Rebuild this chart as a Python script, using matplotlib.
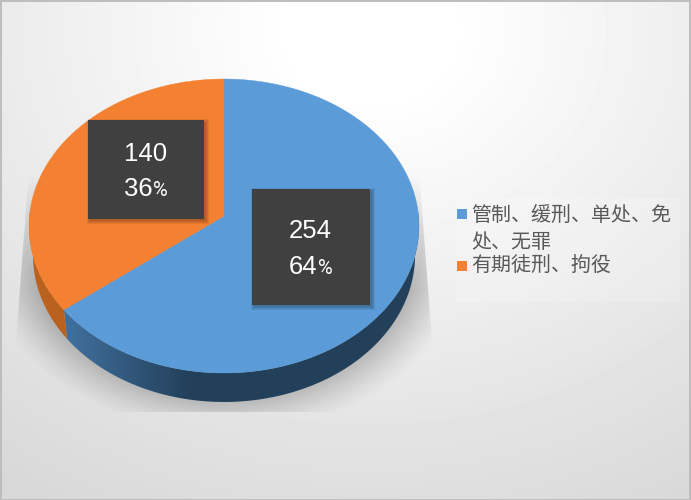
import numpy as np
import matplotlib
matplotlib.use('Agg')
import matplotlib.pyplot as plt
from matplotlib.colors import LinearSegmentedColormap
from matplotlib.patches import Polygon, Rectangle

# data
categories = ['管制、缓刑、单处、免\n处、无罪', '有期徒刑、拘役']
values = [254, 140]
percents = ['64', '36']
colors = ['#5b9bd8', '#f48132']
side_colors = ['#23405a', '#b9621f']

W, H = 691, 500
CX, CY = 224, 216   # where the slices meet
RX, RY, C = 194.5, 146.3, 0.068   # perspective of the pie top
DEPTH = 29
BOTTOM_SCALE = 0.98   # lower rim is a bit narrower than the top


def project(theta):
    # unit circle angle (deg) to picture pixels, tilted with a little perspective
    t = np.radians(theta)
    x, y = np.cos(t), np.sin(t)
    d = 1 + C * y
    return CX + RX * x / d, CY - RY * y / d


def wall(a):
    # polygon between the top rim and the lower rim for the angles in a
    x, y = project(a)
    xb = CX + (x - CX) * BOTTOM_SCALE
    return np.r_[np.c_[x, y], np.c_[xb, y + DEPTH][::-1]]


fig = plt.figure(figsize=(W / 100, H / 100), dpi=100)
ax = fig.add_axes([0, 0, 1, 1])
wedges, _ = ax.pie(values, startangle=90, counterclock=False, colors=colors)
thetas = [(w.theta1, w.theta2) for w in wedges]
for w in wedges:
    w.remove()
ax.set_aspect('auto')
ax.set_xlim(0, W)
ax.set_ylim(H, 0)
ax.axis('off')

# background gradient
yy, xx = np.mgrid[0:H, 0:W]
dist = np.hypot((xx - 370) / 1.12, (yy - 30) / 0.95)
bg = np.clip(255 - 0.078 * np.maximum(dist - 70, 0), 216, 255)
ax.imshow(bg, cmap='gray', vmin=0, vmax=255, extent=(0, W, H, 0), aspect='auto', zorder=0)

# soft shadow under the pie, cut off by its own box like in the reference
rad = np.hypot((xx - 224) / 197.0, (yy - 240) / 155.0)
sd = (rad - 1) * 170
shadow = np.clip(1 - sd / 44, 0, 1) ** 1.3 * 0.24
shadow = shadow * np.clip((yy - 170) / 120.0, 0, 1)
rgba = np.zeros((H, W, 4))
rgba[..., 3] = shadow
im = ax.imshow(rgba, extent=(0, W, H, 0), aspect='auto', zorder=1)
im.set_clip_path(Polygon([(29, 170), (16, 340), (16, 412), (432, 412), (432, 340), (419, 170)],
                         transform=ax.transData))

# side wall, only the front of the circle shows
blue_range, orange_range = thetas
a = np.linspace(min(blue_range), max(blue_range), 400)
a = a[np.sin(np.radians(a)) < 0.05]
wall_cmap = LinearSegmentedColormap.from_list('wall', ['#41719f', side_colors[0]])
xs = np.clip((np.arange(256) / 255 - 64 / 420) * 420 / 125, 0, 1).reshape(1, -1)
poly = Polygon(wall(a), facecolor='none', edgecolor='none', transform=ax.transData)
ax.add_patch(poly)
wall_im = ax.imshow(xs, cmap=wall_cmap, vmin=0, vmax=1, extent=(0, 420, 420, 200), aspect='auto', zorder=2)
wall_im.set_clip_path(poly)

a = np.linspace(min(orange_range), max(orange_range), 300)
a = a[np.sin(np.radians(a)) < 0.05]
ax.add_patch(Polygon(wall(a), facecolor=side_colors[1], edgecolor='none', zorder=2))

# top face
for (t1, t2), col in zip(thetas, colors):
    x, y = project(np.linspace(t1, t2, 300))
    pts = np.r_[[(CX, CY)], np.c_[x, y]]
    ax.add_patch(Polygon(pts, facecolor=col, edgecolor=col, lw=0.3, zorder=3))

# data label boxes
boxes = [(252, 189, 118, 116), (88, 120, 116, 99)]
baselines = [(238.5, 273.5), (161, 196)]
starts = [(290.5, 331), (125.5, 166)]
for (bx, by, bw, bh), (r1, r2), (x0, x1), v, p in zip(boxes, baselines, starts, values, percents):
    # blurry drop shadow from a few stacked rectangles
    for grow in [0, 1, 2, 3]:
        ax.add_patch(Rectangle((bx + 2 - grow, by + 2 - grow), bw + 2 * grow, bh + 2 * grow,
                               facecolor='black', alpha=0.07, edgecolor='none', zorder=4))
    ax.add_patch(Rectangle((bx, by), bw, bh, facecolor='#404040', edgecolor='none', zorder=5))
    ax.text((x0 + x1) / 2, r1, str(v), color='white', fontsize=18.5, family='Liberation Sans',
            ha='center', va='baseline', zorder=6)
    ax.text(x0 - 1.5, r2, p, color='white', fontsize=18.5, family='Liberation Sans',
            ha='left', va='baseline', zorder=6)
    # the percent sign is a narrow one in the reference, Roboto gets closest
    ax.text(x1 + 1.5, r2, '%', color='white', fontsize=14.5, family='Roboto',
            ha='right', va='baseline', zorder=6)

# legend
ax.add_patch(Rectangle((455, 198), 225, 104, facecolor='white', alpha=0.18, edgecolor='none', zorder=1))
ax.add_patch(Rectangle((457, 209), 10, 9.5, facecolor=colors[0], edgecolor='none', zorder=3))
ax.add_patch(Rectangle((457, 261), 10, 9.5, facecolor=colors[1], edgecolor='none', zorder=3))
for txt, ty in zip(categories[0].split('\n') + [categories[1]], [215, 242, 266]):
    ax.text(471, ty, txt, color='#595959', fontsize=14.4, family=['Noto Sans CJK SC', 'DejaVu Sans'],
            ha='left', va='center', zorder=6)

# thin frame
ax.add_patch(Rectangle((0.5, 0.5), W - 1, H - 1, facecolor='none', edgecolor='#bdbdbd', lw=1.4, zorder=7))

ax.set_xlim(0, W)
ax.set_ylim(H, 0)
fig.savefig('out.png', dpi=100)
